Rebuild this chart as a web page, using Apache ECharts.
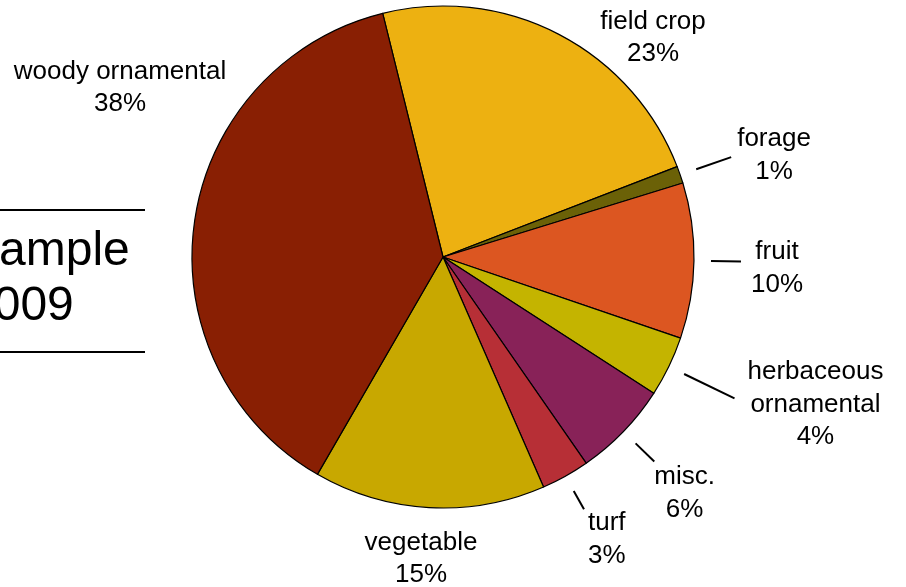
<!DOCTYPE html>
<html>
<head>
<meta charset="utf-8">
<script src="https://cdn.jsdelivr.net/npm/echarts@6/dist/echarts.min.js"></script>
<style>
html, body { margin: 0; padding: 0; background: #fff; }
#chart { width: 906px; height: 587px; }
</style>
</head>
<body>
<div id="chart"></div>
<script>
// data
const categories = ['field crop', 'forage', 'fruit', 'herbaceous\nornamental', 'misc.', 'turf', 'vegetable', 'woody ornamental'];
const shares = [23, 1.1, 10, 3.9, 6.2, 3.1, 14.9, 37.8];
const boxTitle = ['Sample', '2009'];

const colors = ['#EDB111', '#6B6107', '#DC5621', '#C4B400', '#882258', '#B72F36', '#C8A800', '#891F03'];
const font = 'Liberation Sans, Arial, sans-serif';

// labels with a guide line: line length, gap to text, vertical nudge of text
const linedLabels = {
    'forage': {len: 37, gap: 6, nudge: -2},
    'fruit': {len: 30, gap: 10, nudge: 7},
    'herbaceous\nornamental': {len: 56, gap: 13, nudge: 6},
    'misc.': {len: 26, gap: 0, nudge: 32},
    'turf': {len: 21, gap: 4, nudge: 30}
}
// labels without a line, placed by their centre
const freeLabels = {
    'field crop': [653, 38],
    'vegetable': [421, 559],
    'woody ornamental': [120, 88]
}

const center = [443, 257]
const startAngle = 103.9

let myChart = echarts.init(document.getElementById('chart'))

let slices = categories.map((name, i) => ({name: name, value: shares[i], itemStyle: {color: colors[i]}}))

let labelItems = categories.map((name, i) => {
    let p = linedLabels[name]
    if (p) {
        return {
            name: name,
            value: shares[i],
            labelLine: {show: true, length: p.len, length2: 0},
            label: {
                distanceToLabelLine: p.gap,
                padding: p.nudge > 0 ? [2 * p.nudge, 0, 0, 0] : [0, 0, -2 * p.nudge, 0]
            }
        }
    }
    return {name: name, value: shares[i], labelLine: {show: false, length: 0, length2: 0}}
})

let option = {
    backgroundColor: '#fff',
    animation: false,
    graphic: [
        {type: 'line', shape: {x1: -5, y1: 210, x2: 145, y2: 210}, style: {stroke: '#000', lineWidth: 2}},
        {type: 'line', shape: {x1: -5, y1: 352, x2: 145, y2: 352}, style: {stroke: '#000', lineWidth: 2}},
        {
            type: 'text', left: -33, top: 224,
            style: {text: boxTitle.join('\n'), font: '48px ' + font, fill: '#000', lineHeight: 55}
        }
    ],
    series: [
        {
            type: 'pie',
            center: center,
            radius: 251,
            startAngle: startAngle,
            clockwise: true,
            silent: true,
            label: {show: false},
            labelLine: {show: false},
            itemStyle: {borderColor: '#000', borderWidth: 1.2},
            data: slices
        },
        {
            // invisible ring just outside the pie, only carries labels and guide lines
            type: 'pie',
            center: center,
            radius: 268,
            startAngle: startAngle,
            clockwise: true,
            silent: true,
            avoidLabelOverlap: false,
            itemStyle: {color: 'rgba(0,0,0,0)', borderWidth: 0},
            label: {
                show: true,
                position: 'outside',
                color: '#000',
                formatter: function (p) {
                    let lines = p.name.split('\n').map(s => '{c|' + s + '}')
                    lines.push('{c|' + Math.round(p.percent) + '%}')
                    return lines.join('\n')
                },
                rich: {
                    c: {align: 'center', fontSize: 26, lineHeight: 32.5, fontFamily: font, color: '#000'}
                }
            },
            labelLine: {lineStyle: {color: '#000', width: 2}},
            labelLayout: function (params) {
                let pos = freeLabels[categories[params.dataIndex]]
                if (!pos) return {}
                return {x: pos[0], y: pos[1], align: 'center', verticalAlign: 'middle'}
            },
            data: labelItems
        }
    ]
}
myChart.setOption(option)
</script>
</body>
</html>
